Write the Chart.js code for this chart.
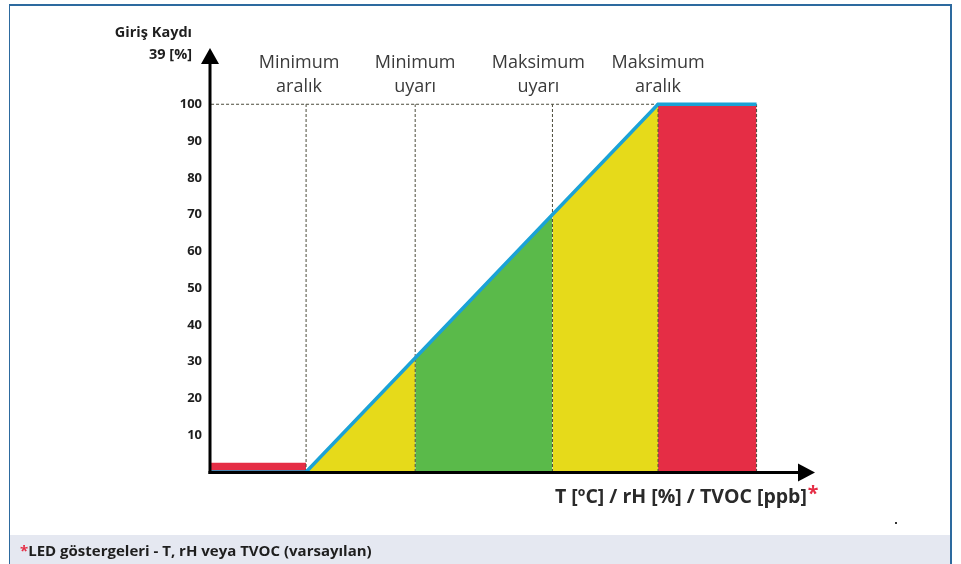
<!DOCTYPE html>
<html>
<head>
<meta charset="utf-8">
<script src="https://cdn.jsdelivr.net/npm/chart.js@4"></script>
<style>
html, body { margin: 0; padding: 0; background: #fff; }
#wrap { position: relative; width: 961px; height: 564px; overflow: hidden; font-family: "Open Sans", sans-serif; }
#frame { position: absolute; left: 9px; top: 4px; width: 943px; height: 580px; box-sizing: border-box;
         border-left: 1px solid #2d6a9f; border-top: 2px solid #2d6a9f; border-right: 2px solid #2d6a9f; }
#footer { position: absolute; left: 10px; top: 535px; width: 940px; height: 29px; background: #e5e8f1; }
#note { position: absolute; left: 20px; top: 540px; font-weight: bold; font-size: 15px; color: #1e1e1e; }
#note span { color: #e52d45; }
canvas { position: absolute; left: 0; top: 0; }
</style>
</head>
<body>
<div id="wrap">
  <div id="frame"></div>
  <div id="footer"></div>
  <canvas id="ledChart" width="961" height="564"></canvas>
  <div id="note"><span>*</span>LED göstergeleri - T, rH veya TVOC (varsayılan)</div>
</div>
<script>
// values (x in sensor units, 0 = minimum range, 100 = maximum range)
const lineX = [-27, 0, 100, 128];
const lineY = [0, 0, 100, 100];
const lowBarX = [-27, 0];
const lowBarY = [2.5, 2.5];
const yellowLowX = [0, 31];
const yellowLowY = [0, 31];
const greenX = [31, 70];
const greenY = [31, 70];
const yellowHighX = [70, 100];
const yellowHighY = [70, 100];
const highBarX = [100, 128];
const highBarY = [100, 100];
const guideX = [0, 31, 70, 100, 128];
const guideTop = 100;
const yTicks = [10, 20, 30, 40, 50, 60, 70, 80, 90, 100];
const zoneLabels = [['Minimum', 'aralık'], ['Minimum', 'uyarı'], ['Maksimum', 'uyarı'], ['Maksimum', 'aralık']];
const zoneLabelX = [-2, 31, 66, 100];
const yTitle = ['Giriş Kaydı', '39 [%]'];
const xTitle = 'T [ºC] / rH [%] / TVOC [ppb]';

const RED = '#e52d45';
const YELLOW = '#e6da1a';
const GREEN = '#5aba4a';
const BLUE = '#1ba2d6';
const DASH = '#4a4a3a';

function pts(xs, ys) {
    return xs.map(function(x, i) { return { x: x, y: ys[i] }; });
}

function area(xs, ys, color) {
    return {
        data: pts(xs, ys),
        borderWidth: 0,
        pointRadius: 0,
        backgroundColor: color,
        fill: 'origin',
        tension: 0,
        order: 3
    };
}

function guide(data) {
    return {
        data: data,
        borderColor: DASH,
        borderWidth: 1,
        borderDash: [3, 2],
        pointRadius: 0,
        fill: false,
        order: 2
    };
}

const datasets = [
    area(lowBarX, lowBarY, RED),
    area(yellowLowX, yellowLowY, YELLOW),
    area(greenX, greenY, GREEN),
    area(yellowHighX, yellowHighY, YELLOW),
    area(highBarX, highBarY, RED)
];
guideX.forEach(function(x) {
    datasets.push(guide([{ x: x, y: 0 }, { x: x, y: guideTop }]));
});
datasets.push(guide([{ x: lineX[0], y: guideTop }, { x: lineX[2], y: guideTop }]));
datasets.push({
    data: pts(lineX, lineY),
    borderColor: BLUE,
    borderWidth: 3.5,
    pointRadius: 0,
    fill: false,
    tension: 0,
    order: 0
});

// axes with arrow heads and the free text around the plot
const decorations = {
    id: 'decorations',
    afterDraw: function(chart) {
        const ctx = chart.ctx;
        const xs = chart.scales.x;
        const ys = chart.scales.y;
        const x0 = xs.getPixelForValue(xs.min);
        const x1 = xs.getPixelForValue(xs.max);
        const y0 = ys.getPixelForValue(0);
        const y1 = ys.getPixelForValue(ys.max);

        ctx.save();
        ctx.fillStyle = '#000';
        ctx.fillRect(x0 - 1.5, y1 + 14, 3, y0 - y1 - 12);
        ctx.fillRect(x0 - 1.5, y0 - 1, x1 - x0 - 12, 3);
        ctx.beginPath();
        ctx.moveTo(x0, y1);
        ctx.lineTo(x0 - 9, y1 + 16);
        ctx.lineTo(x0 + 9, y1 + 16);
        ctx.closePath();
        ctx.fill();
        ctx.beginPath();
        ctx.moveTo(x1, y0 + 0.5);
        ctx.lineTo(x1 - 17, y0 - 8.5);
        ctx.lineTo(x1 - 17, y0 + 9.5);
        ctx.closePath();
        ctx.fill();

        // y axis title
        ctx.font = 'bold 14.5px "Open Sans"';
        ctx.fillStyle = '#1e1e1e';
        ctx.textAlign = 'right';
        ctx.textBaseline = 'middle';
        ctx.fillText(yTitle[0], 192, 33);
        ctx.fillText(yTitle[1], 192, 55);

        // zone labels
        ctx.font = '18px "Open Sans"';
        ctx.fillStyle = '#3a3a3a';
        ctx.textAlign = 'center';
        zoneLabels.forEach(function(lines, i) {
            const px = xs.getPixelForValue(zoneLabelX[i]);
            ctx.fillText(lines[0], px, 63);
            ctx.fillText(lines[1], px, 87);
        });

        // x axis title
        ctx.font = 'bold 19.5px "Open Sans"';
        ctx.fillStyle = '#2a2a2a';
        ctx.textAlign = 'left';
        ctx.fillText(xTitle, 555, 497);
        const w = ctx.measureText(xTitle).width;
        ctx.fillStyle = RED;
        ctx.fillText('*', 555 + w + 1, 494);

        ctx.fillStyle = '#333';
        ctx.fillRect(895, 522, 2, 2);
        ctx.restore();
    }
};

new Chart(document.getElementById('ledChart'), {
    type: 'line',
    data: { datasets: datasets },
    options: {
        responsive: false,
        animation: false,
        layout: { padding: { left: 0, top: 48, right: 146, bottom: 92 } },
        plugins: { legend: { display: false }, tooltip: { enabled: false } },
        scales: {
            x: {
                type: 'linear',
                min: -27.3,
                max: 144.6,
                grid: { display: false },
                border: { display: false },
                ticks: { display: false },
                afterFit: function(scale) { scale.height = 0; }
            },
            y: {
                min: 0,
                max: 115.3,
                grid: { display: false },
                border: { display: false },
                afterBuildTicks: function(scale) {
                    scale.ticks = yTicks.map(function(v) { return { value: v }; });
                },
                afterFit: function(scale) { scale.width = 210; },
                ticks: {
                    padding: 0,
                    color: '#1e1e1e',
                    font: { family: 'Open Sans', size: 13, weight: 'bold' }
                }
            }
        }
    },
    plugins: [decorations]
});
</script>
</body>
</html>
